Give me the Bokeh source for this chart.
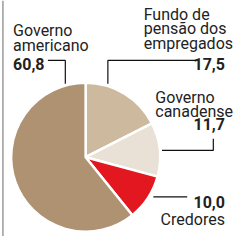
import math
from bokeh.plotting import figure
from bokeh.models import Range1d, ColumnDataSource
from bokeh.core.properties import value
from bokeh.embed import file_html
from bokeh.resources import INLINE

# data (clockwise from 12 o'clock)
categories = ["Fundo de pensão dos empregados", "Governo canadense", "Credores", "Governo americano"]
values = [17.5, 11.7, 10.0, 60.8]
value_labels = ["17,5", "11,7", "10,0", "60,8"]
colors = ["#cdb99d", "#e9e1d6", "#e2171f", "#ae9272"]

total = sum(values)
starts, ends = [], []
cum = 0.0
for v in values:
    starts.append(math.pi / 2 - 2 * math.pi * cum / total)
    cum += v
    ends.append(math.pi / 2 - 2 * math.pi * cum / total)

src = ColumnDataSource(dict(cat=categories, val=values, start=starts, end=ends, color=colors))

p = figure(width=237, height=236, output_backend="svg", toolbar_location=None,
           x_range=Range1d(0, 245), y_range=Range1d(-244, 0), min_border=0)
p.axis.visible = False
p.grid.visible = False
p.outline_line_color = None
p.background_fill_color = "white"

# left border rule as in the source
p.line(x=[2.5, 2.5], y=[0, -244], line_color="#9a9a9a", line_width=1.5)

cx, cy, r = 88, -162, 77
p.wedge(x=cx, y=cy, radius=r, start_angle="start", end_angle="end", direction="clock",
        fill_color="color", line_color="white", line_width=2.5, source=src)

font = value("Roboto")
tc = "#222222"
fs = "16px"
# Governo americano
p.text(x=[13, 13], y=[-31, -47], text=["Governo", "americano"], text_font=font, text_font_size=fs,
       text_color=tc, text_baseline="alphabetic", text_align="left")
p.text(x=[13], y=[-66], text=[value_labels[3]], text_font=font, text_font_size=fs, text_font_style="bold",
       text_color=tc, text_baseline="alphabetic", text_align="left")
p.line(x=[49, 67, 67], y=[-62, -62, -86], line_color="#111111", line_width=1.2)

# Fundo
p.text(x=[148, 148, 148], y=[-14, -29, -44], text=["Fundo de", "pensão dos", "empregados"], text_font=font,
       text_font_size=fs, text_color=tc, text_baseline="alphabetic", text_align="left")
p.text(x=[232], y=[-66], text=[value_labels[0]], text_font=font, text_font_size=fs, text_font_style="bold",
       text_color=tc, text_baseline="alphabetic", text_align="right")
p.line(x=[202, 111, 111], y=[-62, -62, -86], line_color="#111111", line_width=1.2)

# Governo canadense
p.text(x=[160, 160], y=[-100, -115], text=["Governo", "canadense"], text_font=font, text_font_size=fs,
       text_color=tc, text_baseline="alphabetic", text_align="left")
p.text(x=[232], y=[-128], text=[value_labels[1]], text_font=font, text_font_size=fs, text_font_style="bold",
       text_color=tc, text_baseline="alphabetic", text_align="right")
p.line(x=[220, 220, 167], y=[-143, -155, -155], line_color="#111111", line_width=1.2)

# Credores
p.text(x=[232], y=[-208], text=[value_labels[2]], text_font=font, text_font_size=fs, text_font_style="bold",
       text_color=tc, text_baseline="alphabetic", text_align="right")
p.text(x=[232], y=[-226], text=["Credores"], text_font=font, text_font_size=fs,
       text_color=tc, text_baseline="alphabetic", text_align="right")
p.line(x=[158, 193], y=[-203, -203], line_color="#111111", line_width=1.2)

open("out.html", "w").write(file_html(p, INLINE))
